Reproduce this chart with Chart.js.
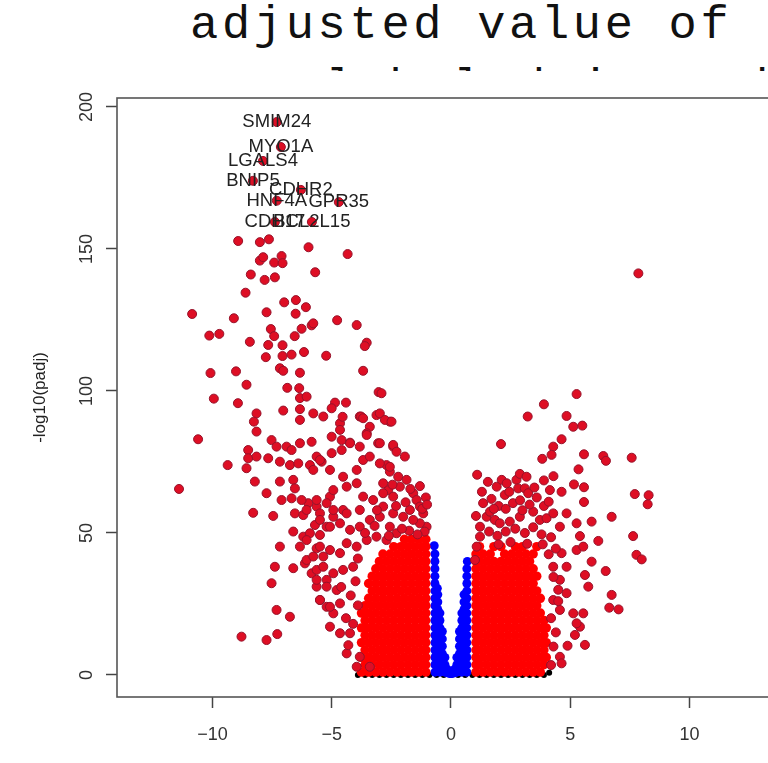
<!DOCTYPE html>
<html lang="en">
<head>
<meta charset="UTF-8">
<title>Volcano plot</title>
<script src="https://cdn.jsdelivr.net/npm/chart.js"></script>
<style>
  html, body { margin: 0; padding: 0; background: #fff; overflow: hidden; width: 768px; height: 763px; }
  .titulo { position: absolute; font-family: 'Liberation Mono', monospace; font-size: 47px; line-height: 47px; letter-spacing: 3.7px; color: #111; white-space: pre; }
  #linha1 { top: 2px; left: 190px; }
  #linha2 { top: 65px; left: 166px; }
  #caixa { position: absolute; left: 0; top: 71px; width: 800px; height: 692px; background: #fff; }
</style>
</head>
<body>
<div class="titulo" id="linha1">adjusted value of</div>
<div class="titulo" id="linha2">were labeled in red</div>
<div id="caixa"><canvas id="volcano" width="800" height="692"></canvas></div>

<script>
// eixos
const xTicks = [-10, -5, 0, 5, 10];
const yTicks = [0, 50, 100, 150, 200];

// genes com nome (log2FC, -log10 padj)
const geneNames = ['SMIM24', 'MYO1A', 'LGALS4', 'BNIP5', 'CDHR2', 'HNF4A', 'GPR35', 'CDH17', 'BCL2L15'];
const geneLogFC = [-7.3, -7.13, -7.88, -8.3, -6.29, -7.3, -4.7, -7.38, -5.83];
const genePadj  = [194.7, 185.9, 181.0, 174.0, 170.8, 167.0, 166.5, 159.5, 159.5];

// pontos vermelhos espalhados
const sigSpread = [
  [-8.92,152.8],[-8.01,152.4],[-7.63,153.4],[-5.97,150.6],[-4.33,148.2],[-8.01,145.9],[-7.87,147.1],[-7.41,145.2],
  [-7.10,147.5],[-7.06,145.0],[-5.69,141.8],[-8.39,141.0],[-7.81,139.1],[-7.38,140.0],[-8.61,134.6],[-6.99,131.2],
  [-6.50,132.0],[-6.08,129.5],[-10.85,127.1],[-9.10,125.6],[-7.73,127.7],[-6.51,127.2],[-4.77,124.9],[-3.95,123.2],
  [-10.13,119.5],[-9.71,120.1],[-7.55,121.8],[-7.41,119.3],[-6.26,121.9],[-5.84,123.1],[-5.77,123.8],[-6.55,119.3],
  [-8.43,117.3],[-7.66,116.2],[-7.06,116.1],[-3.53,117.0],[-3.61,115.8],[-7.76,111.9],[-7.06,112.3],[-6.68,112.8],
  [-6.16,113.7],[-5.23,112.4],[-10.08,106.3],[-9.01,106.9],[-7.17,108.0],[-7.03,107.1],[-6.33,106.4],[-3.68,107.1],
  [-8.57,102.2],[-6.86,101.1],[-6.36,101.0],[-3.03,99.6],[-9.94,97.3],[-8.93,95.7],[-6.33,97.5],[-6.05,98.0],
  [-4.86,95.9],[-4.40,95.9],[-8.15,92.1],[-7.03,93.1],[-6.33,93.6],
  [-10.6,83.0],[-9.36,73.9],[-11.4,65.5],[-8.26,89.2],[-8.15,85.7],[-6.33,89.8],[-5.77,92.1],[-5.35,91.0],
  [-5.0,93.9],[-4.65,88.6],[-4.54,90.9],[-3.82,91.0],[-3.12,91.5],[-2.56,89.2],[-3.40,87.4],[-3.53,85.1],
  [-3.05,81.6],[-2.42,80.4],[-7.52,82.7],[-7.31,80.4],[-6.89,80.4],[-6.68,79.2],[-6.33,81.6],[-5.84,82.1],
  [-5.0,83.9],[-4.58,82.7],[-4.58,79.2],[-4.23,81.8],[-3.82,80.4],[-5.0,78.1],[-8.5,79.2],[-8.5,76.3],
  [-8.57,72.8],[-8.15,76.9],[-7.66,76.3],[-7.17,75.1],[-6.75,73.9],[-6.4,74.5],[-5.91,73.9],[-5.63,76.9],
  [-5.42,75.1],[-5.07,72.2],[-8.22,68.1],[-7.73,64.0],[-7.17,68.1],[-6.61,68.7],[-6.54,65.7],[-6.68,62.2],
  [-7.1,61.6],[-7.45,56.0],[-8.29,57.1],[-6.54,56.9],[-6.19,56.3],[-5.98,60.5],[-5.63,59.3],[-6.61,50.5],
  [-6.19,48.7],[-5.91,49.9],[-5.49,49.3],[-6.33,45.2],[-7.17,45.2],[-7.38,38.1],[-7.52,32.3],[-6.61,37.6],
  [-6.12,39.3],[-5.84,35.8],[-7.31,22.9],[-6.75,20.5],[-8.78,13.5],[-7.73,12.3],[-7.28,14.4],[-5.07,62.8],
  [-5.49,56.9],[-5.7,52.8],[-5.21,52.2],[-4.93,55.7],[-4.52,58.1],[-5.63,44.6],[-6.05,40.5],[-5.63,37.0],
  [-5.35,41.7],[-5.21,33.5],[-5.63,31.1],[-5.49,26.4],[-5.21,24.0],[-4.93,21.7],[-5.07,17.0],[-4.65,14.7],
  [-4.23,14.7],[-4.37,7.6],[-3.82,6.4],[-3.95,2.9],[-3.40,2.9],
  [-2.91,99.2],[-2.98,92.1],[-2.77,89.8],[-2.49,89.2],[-2.98,81.6],[-2.42,81.0],[-2.28,78.6],[-1.93,76.9],
  [-2.70,73.9],[-2.56,71.6],[-2.21,69.8],[-1.86,68.7],[-2.14,66.3],[-2.63,65.1],[-2.84,67.5],[-1.58,64.0],
  [-1.44,61.6],[-1.30,59.3],[-1.72,58.1],[-1.16,56.9],[-1.02,52.2],[-1.30,53.4],[-1.58,54.6],[-2.00,55.7],
  [-2.42,56.9],[-2.84,59.3],[-4.65,86.3],[-3.77,91.0],[-3.68,90.4],[-3.53,84.5],[-4.23,81.6],[-3.68,75.7],
  [-3.40,76.9],[-2.98,74.5],[-2.56,73.3],[-3.95,72.2],[-4.52,69.8],[-5.49,75.7],[-5.77,72.2],
  [-6.26,61.6],[-6.05,58.1],[-5.63,61.6],[-5.21,60.5],[-4.93,65.1],[-4.37,66.3],[-3.95,67.5],[-3.68,62.8],
  [-3.26,61.6],[-2.84,64.0],[-2.42,62.8],[-3.82,58.1],[-4.37,56.9],[-4.93,58.1],[-5.49,54.6],[-5.07,52.2],
  [-4.65,53.4],[-4.23,51.1],[-3.82,52.2],[-3.40,54.6],[-2.98,55.7],[-2.56,52.2],[-6.05,47.5],[-5.49,45.2],
  [-5.07,44.0],[-4.65,42.9],[-4.37,46.4],[-3.95,45.2],[-3.53,47.5],[-3.12,48.7],[-2.70,47.5],[-2.28,49.9],
  [-5.77,41.7],[-5.35,38.1],[-4.93,35.8],[-4.52,37.0],[-4.10,38.1],[-5.63,33.5],[-5.21,31.1],[-4.79,29.9],
  [-5.49,26.4],[-5.07,24.0],[-4.65,25.2],[-4.4,20.0],[-4.2,28.0],[-4.0,33.0],[-3.9,41.0],[-4.3,10.5],
  [-4.1,18.0],[-3.9,24.5],[-4.6,31.0],
  [-1.1,50.5],[-1.4,49.5],[-1.75,50.8],[-2.05,51.5],[-2.6,49.0],[-1.2,58.5],[-1.9,60.8],[-2.3,59.5],
  [-1.05,62.5],[-1.7,65.5],[-2.45,67.0],[-3.1,58.0],[-3.2,52.5],[-3.6,50.0],[-1.3,66.5],[-1.0,60.0],
  [5.27,98.9],[3.90,95.3],[3.22,91.0],[4.85,91.2],[5.13,87.4],[5.51,87.8],[2.10,81.3],[4.64,83.0],
  [4.29,80.4],[4.22,77.5],[3.83,76.1],[5.58,77.7],[6.39,77.1],[6.5,75.4],[7.58,76.5],[5.35,72.4],
  [1.92,66.3],[2.13,68.7],[2.34,67.5],[2.75,68.7],[2.89,70.8],[3.17,69.8],[2.82,65.7],[3.10,65.7],
  [3.24,64.0],[2.26,63.4],[4.15,65.1],[4.64,64.5],[5.16,67.1],[5.58,66.1],[5.58,60.9],[7.71,63.7],
  [8.29,63.3],[8.25,60.1],[6.74,55.7],[5.90,54.0],[6.18,47.2],[7.64,48.9],[7.78,42.3],[8.0,40.7],
  [5.9,39.9],[6.49,36.6],[5.41,48.9],[5.27,53.4],[4.85,56.9],[5.27,44.0],[5.55,45.2],[6.74,28.2],
  [6.64,23.7],[7.03,23.1],[5.62,35.2],[5.76,31.1],[5.55,21.7],[5.62,10.6],[5.20,14.1],[4.89,10.3],
  [4.57,6.4],[4.64,4.1],[5.13,21.7],[5.41,17.0],[5.27,18.2],[4.57,33.5],[4.85,28.8],[4.29,26.4],
  [4.57,22.9],[4.85,38.1],[4.64,42.9],[4.29,38.1],[7.86,141.4],
  [1.22,52.2],[1.50,55.7],[1.64,57.5],[1.84,54.6],[2.05,53.4],[2.47,54.0],[2.89,55.7],[3.45,57.5],
  [3.73,54.6],[4.01,55.2],[4.29,56.9],[4.57,52.2],[1.22,48.7],[1.08,45.2],[1.01,40.5],
  [1.35,60.5],[1.7,62.0],[2.0,59.5],[2.3,58.5],[2.6,60.5],[2.9,61.5],[3.3,60.0],[3.6,62.5],
  [3.9,59.5],[4.1,61.0],[1.6,50.5],[1.95,49.0],[2.3,50.5],[2.7,51.5],[3.1,50.0],[3.45,52.0],
  [3.8,49.5],[4.2,48.5],[4.4,44.5],[4.1,42.5],[3.85,46.0],[2.5,46.8],[2.0,46.0],[3.2,46.2],
  [4.5,30.0],[4.3,34.5],[4.2,20.0],[4.4,15.0],[4.3,10.0],[4.2,3.5],[4.5,26.0],
  [1.05,56.0],[1.3,64.5],[1.55,68.0],[1.1,70.5],[1.8,58.5],[2.45,64.5],[3.0,58.0],[3.5,66.0],
  [3.9,68.5],[4.3,70.0]
];

// massa vermelha densa, lado negativo
const sigCoreLeft = [
  [-1.05,1],[-1.35,1],[-1.65,1],[-1.95,1],[-2.25,1],[-2.55,1],[-2.85,1],[-3.15,1],[-3.45,1],[-3.75,1],
  [-1.05,3.6],[-1.2,3.6],[-1.5,3.6],[-1.8,3.6],[-2.1,3.6],[-2.4,3.6],[-2.7,3.6],[-3.0,3.6],[-3.3,3.6],[-3.6,3.6],
  [-1.05,6.2],[-1.35,6.2],[-1.65,6.2],[-1.95,6.2],[-2.25,6.2],[-2.55,6.2],[-2.85,6.2],[-3.15,6.2],[-3.45,6.2],[-3.75,6.2],
  [-1.05,8.8],[-1.2,8.8],[-1.5,8.8],[-1.8,8.8],[-2.1,8.8],[-2.4,8.8],[-2.7,8.8],[-3.0,8.8],[-3.3,8.8],[-3.6,8.8],
  [-1.05,11.4],[-1.35,11.4],[-1.65,11.4],[-1.95,11.4],[-2.25,11.4],[-2.55,11.4],[-2.85,11.4],[-3.15,11.4],[-3.45,11.4],[-3.75,11.4],
  [-1.05,14],[-1.2,14],[-1.5,14],[-1.8,14],[-2.1,14],[-2.4,14],[-2.7,14],[-3.0,14],[-3.3,14],[-3.6,14],
  [-1.05,16.6],[-1.35,16.6],[-1.65,16.6],[-1.95,16.6],[-2.25,16.6],[-2.55,16.6],[-2.85,16.6],[-3.15,16.6],[-3.45,16.6],[-3.75,16.6],
  [-1.05,19.2],[-1.2,19.2],[-1.5,19.2],[-1.8,19.2],[-2.1,19.2],[-2.4,19.2],[-2.7,19.2],[-3.0,19.2],[-3.3,19.2],[-3.6,19.2],
  [-1.05,21.8],[-1.35,21.8],[-1.65,21.8],[-1.95,21.8],[-2.25,21.8],[-2.55,21.8],[-2.85,21.8],[-3.15,21.8],[-3.45,21.8],[-3.75,21.8],
  [-1.05,24.4],[-1.2,24.4],[-1.5,24.4],[-1.8,24.4],[-2.1,24.4],[-2.4,24.4],[-2.7,24.4],[-3.0,24.4],[-3.3,24.4],[-3.6,24.4],
  [-1.05,27],[-1.35,27],[-1.65,27],[-1.95,27],[-2.25,27],[-2.55,27],[-2.85,27],[-3.15,27],[-3.45,27],
  [-1.05,29.6],[-1.2,29.6],[-1.5,29.6],[-1.8,29.6],[-2.1,29.6],[-2.4,29.6],[-2.7,29.6],[-3.0,29.6],[-3.3,29.6],
  [-1.05,32.2],[-1.35,32.2],[-1.65,32.2],[-1.95,32.2],[-2.25,32.2],[-2.55,32.2],[-2.85,32.2],[-3.15,32.2],[-3.45,32.2],
  [-1.05,34.8],[-1.2,34.8],[-1.5,34.8],[-1.8,34.8],[-2.1,34.8],[-2.4,34.8],[-2.7,34.8],[-3.0,34.8],[-3.3,34.8],
  [-1.05,37.4],[-1.35,37.4],[-1.65,37.4],[-1.95,37.4],[-2.25,37.4],[-2.55,37.4],[-2.85,37.4],[-3.15,37.4],
  [-1.05,40],[-1.2,40],[-1.5,40],[-1.8,40],[-2.1,40],[-2.4,40],[-2.7,40],[-3.0,40],
  [-1.05,42.6],[-1.35,42.6],[-1.65,42.6],[-1.95,42.6],[-2.25,42.6],[-2.55,42.6],[-2.85,42.6],
  [-1.05,45.2],[-1.2,45.2],[-1.5,45.2],[-1.8,45.2],[-2.1,45.2],[-2.4,45.2],
  [-1.05,47.8],[-1.35,47.8],[-1.65,47.8],[-1.95,47.8]
];

// massa vermelha densa, lado positivo
const sigCoreRight = [
  [1.05,1],[1.35,1],[1.65,1],[1.95,1],[2.25,1],[2.55,1],[2.85,1],[3.15,1],[3.45,1],[3.75,1],
  [1.05,3.6],[1.2,3.6],[1.5,3.6],[1.8,3.6],[2.1,3.6],[2.4,3.6],[2.7,3.6],[3.0,3.6],[3.3,3.6],[3.6,3.6],[3.9,3.6],
  [1.05,6.2],[1.35,6.2],[1.65,6.2],[1.95,6.2],[2.25,6.2],[2.55,6.2],[2.85,6.2],[3.15,6.2],[3.45,6.2],[3.75,6.2],[4.0,6.2],
  [1.05,8.8],[1.2,8.8],[1.5,8.8],[1.8,8.8],[2.1,8.8],[2.4,8.8],[2.7,8.8],[3.0,8.8],[3.3,8.8],[3.6,8.8],[3.9,8.8],
  [1.05,11.4],[1.35,11.4],[1.65,11.4],[1.95,11.4],[2.25,11.4],[2.55,11.4],[2.85,11.4],[3.15,11.4],[3.45,11.4],[3.75,11.4],[4.0,11.4],
  [1.05,14],[1.2,14],[1.5,14],[1.8,14],[2.1,14],[2.4,14],[2.7,14],[3.0,14],[3.3,14],[3.6,14],[3.9,14],
  [1.05,16.6],[1.35,16.6],[1.65,16.6],[1.95,16.6],[2.25,16.6],[2.55,16.6],[2.85,16.6],[3.15,16.6],[3.45,16.6],[3.75,16.6],[4.0,16.6],
  [1.05,19.2],[1.2,19.2],[1.5,19.2],[1.8,19.2],[2.1,19.2],[2.4,19.2],[2.7,19.2],[3.0,19.2],[3.3,19.2],[3.6,19.2],[3.9,19.2],
  [1.05,21.8],[1.35,21.8],[1.65,21.8],[1.95,21.8],[2.25,21.8],[2.55,21.8],[2.85,21.8],[3.15,21.8],[3.45,21.8],[3.75,21.8],
  [1.05,24.4],[1.2,24.4],[1.5,24.4],[1.8,24.4],[2.1,24.4],[2.4,24.4],[2.7,24.4],[3.0,24.4],[3.3,24.4],[3.6,24.4],
  [1.05,27],[1.35,27],[1.65,27],[1.95,27],[2.25,27],[2.55,27],[2.85,27],[3.15,27],[3.45,27],[3.75,27],
  [1.05,29.6],[1.2,29.6],[1.5,29.6],[1.8,29.6],[2.1,29.6],[2.4,29.6],[2.7,29.6],[3.0,29.6],[3.3,29.6],[3.6,29.6],
  [1.05,32.2],[1.35,32.2],[1.65,32.2],[1.95,32.2],[2.25,32.2],[2.55,32.2],[2.85,32.2],[3.15,32.2],[3.45,32.2],
  [1.05,34.8],[1.2,34.8],[1.5,34.8],[1.8,34.8],[2.1,34.8],[2.4,34.8],[2.7,34.8],[3.0,34.8],[3.3,34.8],[3.6,34.8],
  [1.05,37.4],[1.35,37.4],[1.65,37.4],[1.95,37.4],[2.25,37.4],[2.55,37.4],[2.85,37.4],[3.15,37.4],[3.45,37.4],
  [1.05,40],[1.2,40],[1.5,40],[1.8,40],[2.1,40],[2.4,40],[2.7,40],[3.0,40],[3.3,40],
  [1.05,42.6],[1.35,42.6],[1.65,42.6],[2.25,42.6],[2.55,42.6],[2.85,42.6],[3.15,42.6],[3.45,42.6],
  [1.2,45.2],[1.8,45.2],[2.1,45.2],[2.7,45.2],[3.0,45.2],[3.6,45.2]
];

// azul: significativo, mas com |log2FC| pequeno
const blueLeft = [
  [-0.67,1],[-0.67,3.6],[-0.67,6.2],[-0.67,8.8],[-0.67,11.4],[-0.67,14],[-0.67,16.6],[-0.67,19.2],[-0.67,21.8],
  [-0.67,24.4],[-0.67,27],[-0.67,29.6],[-0.67,32.2],[-0.67,34.8],[-0.67,37.4],[-0.67,40],[-0.67,42.6],[-0.7,45.5],
  [-0.55,2.3],[-0.55,4.9],[-0.55,7.5],[-0.55,10.1],[-0.55,12.7],[-0.55,15.3],[-0.55,17.9],[-0.55,20.5],
  [-0.55,23.1],[-0.55,25.7],[-0.55,28.3],[-0.57,30.5],
  [-0.46,1],[-0.46,3.6],[-0.46,6.2],[-0.46,8.8],[-0.46,11.4],[-0.46,14],[-0.46,16.6],[-0.46,19.2],[-0.46,21.8],
  [-0.36,2.3],[-0.36,4.9],[-0.36,7.5],[-0.36,10.1],[-0.36,12.7],[-0.36,15.3],
  [-0.25,1],[-0.25,3.6],[-0.25,6.2],[-0.15,0.8],[-0.15,2.0],[-0.05,0.5]
];
const blueRight = [
  [0.67,1],[0.67,3.6],[0.67,6.2],[0.67,8.8],[0.67,11.4],[0.67,14],[0.67,16.6],[0.67,19.2],[0.67,21.8],
  [0.67,24.4],[0.67,27],[0.67,29.6],[0.67,32.2],[0.67,34.8],[0.67,37.4],[0.69,40],
  [0.55,2.3],[0.55,4.9],[0.55,7.5],[0.55,10.1],[0.55,12.7],[0.55,15.3],[0.55,17.9],[0.55,20.5],
  [0.55,23.1],[0.55,25.7],[0.55,28.3],
  [0.46,1],[0.46,3.6],[0.46,6.2],[0.46,8.8],[0.46,11.4],[0.46,14],[0.46,16.6],[0.46,19.2],[0.46,21.8],
  [0.36,2.3],[0.36,4.9],[0.36,7.5],[0.36,10.1],[0.36,12.7],[0.36,15.3],
  [0.25,1],[0.25,3.6],[0.25,6.2],[0.15,0.8],[0.15,2.0],[0.05,0.5]
];

// preto: nao significativos (rente ao zero)
const notSig = [
  [-3.9,0],[-3.6,0],[-3.3,0],[-3.0,0],[-2.7,0],[-2.4,0],[-2.1,0],[-1.8,0],[-1.5,0],[-1.2,0],[-0.9,0],[-0.6,0],
  [-0.3,0],[0,0],[0.3,0],[0.6,0],[0.9,0],[1.2,0],[1.5,0],[1.8,0],[2.1,0],[2.4,0],[2.7,0],[3.0,0],[3.3,0],
  [3.6,0],[3.9,0],[4.12,0.8]
];

function toXY(lista) {
  return lista.map(p => ({ x: p[0], y: p[1] }));
}

const geneData = geneNames.map((n, i) => ({ x: geneLogFC[i], y: genePadj[i] }));

// moldura, rotulos do eixo y e nomes dos genes
const extras = {
  id: 'extras',
  afterDatasetsDraw(chart) {
    const { ctx, scales } = chart;
    ctx.save();
    ctx.fillStyle = '#222';
    ctx.font = '18.5px "Liberation Sans"';
    ctx.textAlign = 'center';
    ctx.textBaseline = 'middle';
    geneNames.forEach((nome, i) => {
      ctx.fillText(nome, scales.x.getPixelForValue(geneLogFC[i]), scales.y.getPixelForValue(genePadj[i]));
    });
    ctx.restore();
  },
  afterDraw(chart) {
    const { ctx, chartArea: a, scales } = chart;
    ctx.save();
    ctx.strokeStyle = '#555';
    ctx.lineWidth = 1.6;
    ctx.strokeRect(a.left, a.top, a.right - a.left, a.bottom - a.top);

    ctx.fillStyle = '#333';
    ctx.font = '18px "Liberation Sans"';
    ctx.textAlign = 'center';
    ctx.textBaseline = 'middle';
    yTicks.forEach(v => {
      ctx.save();
      ctx.translate(87, scales.y.getPixelForValue(v));
      ctx.rotate(-Math.PI / 2);
      ctx.fillText(String(v), 0, 0);
      ctx.restore();
    });

    ctx.save();
    ctx.translate(40, (a.top + a.bottom) / 2);
    ctx.rotate(-Math.PI / 2);
    ctx.font = '17px "Liberation Sans"';
    ctx.fillStyle = '#222';
    ctx.fillText('-log10(padj)', 0, 0);
    ctx.restore();
    ctx.restore();
  }
};

const redFill = 'rgb(222,14,36)';
const redEdge = 'rgb(150,18,42)';

const config = {
  type: 'scatter',
  data: {
    datasets: [
      { label: 'genes', data: geneData, order: 0, pointRadius: 4.5, pointBackgroundColor: redFill, pointBorderColor: redEdge, pointBorderWidth: 1 },
      { label: 'sig', data: toXY(sigSpread), order: 1, pointRadius: 4.5, pointBackgroundColor: redFill, pointBorderColor: redEdge, pointBorderWidth: 1 },
      { label: 'core', data: toXY(sigCoreLeft.concat(sigCoreRight)), order: 2, pointRadius: 4.7, pointBackgroundColor: '#ff0000', pointBorderWidth: 0 },
      { label: 'blue', data: toXY(blueLeft.concat(blueRight)), order: 3, pointRadius: 4.5, pointBackgroundColor: '#0000ff', pointBorderWidth: 0 },
      { label: 'ns', data: toXY(notSig), order: 4, pointRadius: 3, pointBackgroundColor: '#000', pointBorderWidth: 0 }
    ]
  },
  options: {
    responsive: false,
    devicePixelRatio: 1,
    animation: false,
    events: [],
    layout: { padding: { top: 27, right: 14, left: 0, bottom: 0 } },
    plugins: { legend: { display: false }, tooltip: { enabled: false } },
    scales: {
      x: {
        type: 'linear',
        min: -14.0,
        max: 14.05,
        afterBuildTicks: s => { s.ticks = xTicks.map(v => ({ value: v })); },
        afterFit: s => { s.height = 66; },
        border: { display: false },
        grid: { drawOnChartArea: false, drawTicks: true, tickLength: 11, tickColor: '#444', tickWidth: 1.5 },
        ticks: {
          color: '#333',
          font: { family: 'Liberation Sans', size: 18 },
          padding: 16,
          maxRotation: 0,
          autoSkip: false,
          callback: v => String(v).replace('-', '\u2212')
        }
      },
      y: {
        type: 'linear',
        min: -7.75,
        max: 203.15,
        afterBuildTicks: s => { s.ticks = yTicks.map(v => ({ value: v })); },
        afterFit: s => { s.width = 117; },
        border: { display: false },
        grid: { drawOnChartArea: false, drawTicks: true, tickLength: 11, tickColor: '#444', tickWidth: 1.5 },
        ticks: { display: false }
      }
    }
  },
  plugins: [extras]
};

new Chart(document.getElementById('volcano'), config);
</script>
</body>
</html>
